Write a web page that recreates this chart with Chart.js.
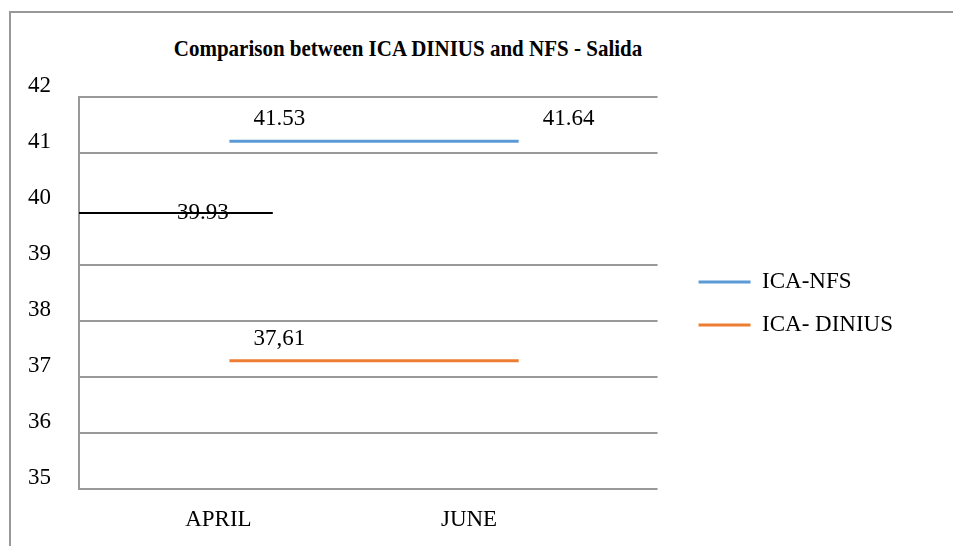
<!DOCTYPE html>
<html>
<head>
<meta charset="utf-8">
<script src="https://cdn.jsdelivr.net/npm/chart.js@4"></script>
<style>
  html, body { margin: 0; padding: 0; background: #fff; }
  #wrap { position: relative; width: 953px; height: 546px; overflow: hidden; }
  #frame { position: absolute; left: 9px; top: 11px; width: 1000px; height: 600px; border-left: 2px solid #999; border-top: 2px solid #999; }
  #title { position: absolute; left: 408px; top: 36px; transform: translateX(-50%) scaleY(1.12); white-space: nowrap; font: bold 21px/24px 'Liberation Serif', 'Times New Roman', serif; color: #000; }
  canvas { position: absolute; left: 0; top: 0; }
</style>
</head>
<body>
<div id="wrap">
  <div id="frame"></div>
  <div id="title">Comparison between ICA DINIUS and NFS - Salida</div>
  <canvas id="chart" width="953" height="546"></canvas>
</div>
<script>
const months = ["APRIL", "JUNE"];
const yTicks = [35, 36, 37, 38, 39, 40, 41, 42];

// plotted positions (flat lines) and the numbers written above them
const nfsValues = [41.21, 41.21];
const nfsLabels = ["41.53", "41.64"];
const diniusValues = [37.29, 37.29];
const diniusLabels = ["37,61", ""];

// short black reference line on the left
const refX = [-0.52, 0.15];
const refValues = [39.93, 39.93];
const refLabels = ["", "39.93"];

const serif = "'Liberation Serif', 'Times New Roman', serif";
const tickFont = { family: serif, size: 23 };

// writes the small numbers next to the lines
const valueLabelPlugin = {
    id: "valueLabels",
    afterDatasetsDraw(chart) {
        const ctx = chart.ctx;
        ctx.save();
        ctx.font = "23px " + serif;
        ctx.fillStyle = "#000";
        ctx.textAlign = "center";
        ctx.textBaseline = "middle";
        chart.data.datasets.forEach((ds, di) => {
            if (!ds.valueLabels) return;
            const meta = chart.getDatasetMeta(di);
            meta.data.forEach((pt, i) => {
                const text = ds.valueLabels[i];
                if (text) ctx.fillText(text, pt.x + ds.labelDx, pt.y + ds.labelDy);
            });
        });
        ctx.restore();
    }
};

new Chart(document.getElementById("chart"), {
    type: "line",
    data: {
        datasets: [
            {
                label: "ICA-NFS",
                data: nfsValues.map((v, i) => ({ x: i, y: v })),
                xAxisID: "xd",
                borderColor: "#5b9bd5",
                backgroundColor: "#5b9bd5",
                borderWidth: 3,
                pointRadius: 0,
                valueLabels: nfsLabels,
                labelDx: 50,
                labelDy: -22
            },
            {
                label: "ICA- DINIUS",
                data: diniusValues.map((v, i) => ({ x: i, y: v })),
                xAxisID: "xd",
                borderColor: "#ed7d31",
                backgroundColor: "#ed7d31",
                borderWidth: 3,
                pointRadius: 0,
                valueLabels: diniusLabels,
                labelDx: 50,
                labelDy: -22
            },
            {
                label: "ref",
                data: refValues.map((v, i) => ({ x: refX[i], y: v })),
                xAxisID: "xd",
                borderColor: "#000",
                borderWidth: 2,
                pointRadius: 0,
                valueLabels: refLabels,
                labelDx: -70,
                labelDy: 0
            }
        ]
    },
    options: {
        responsive: false,
        animation: false,
        events: [],
        layout: { padding: { top: 97, right: 50, bottom: 0, left: 0 } },
        scales: {
            xd: {
                type: "linear",
                display: false,
                min: -0.52,
                max: 1.48
            },
            x: {
                type: "linear",
                position: "bottom",
                min: -0.556,
                max: 1.752,
                afterBuildTicks: s => { s.ticks = months.map((m, i) => ({ value: i })); },
                afterFit: s => { s.height = 57; },
                ticks: { padding: 9, color: "#000", font: tickFont, maxRotation: 0, callback: v => months[v] },
                grid: { display: false },
                border: { display: false }
            },
            y: {
                min: yTicks[0],
                max: yTicks[yTicks.length - 1],
                afterBuildTicks: s => { s.ticks = yTicks.map(v => ({ value: v })); },
                afterFit: s => { s.width = 79; },
                ticks: { align: "end", padding: 28, color: "#000", font: tickFont },
                grid: {
                    drawTicks: false,
                    lineWidth: 2,
                    color: c => (c.tick && c.tick.value === 40) ? "rgba(0,0,0,0)" : "#999"
                },
                border: { color: "#999", width: 2 }
            },
            // empty strip between plot and legend
            gap: {
                type: "linear",
                position: "right",
                display: false,
                afterFit: s => { s.width = 21; }
            }
        },
        plugins: {
            tooltip: { enabled: false },
            legend: {
                position: "right",
                fullSize: false,
                title: { display: true, text: "", padding: 0, font: { size: 10, lineHeight: "21px" } },
                labels: {
                    usePointStyle: true,
                    pointStyle: "line",
                    pointStyleWidth: 52,
                    padding: 20,
                    color: "#000",
                    font: { family: serif, size: 23 },
                    filter: item => item.datasetIndex < 2
                }
            }
        }
    },
    plugins: [valueLabelPlugin]
});
</script>
</body>
</html>
